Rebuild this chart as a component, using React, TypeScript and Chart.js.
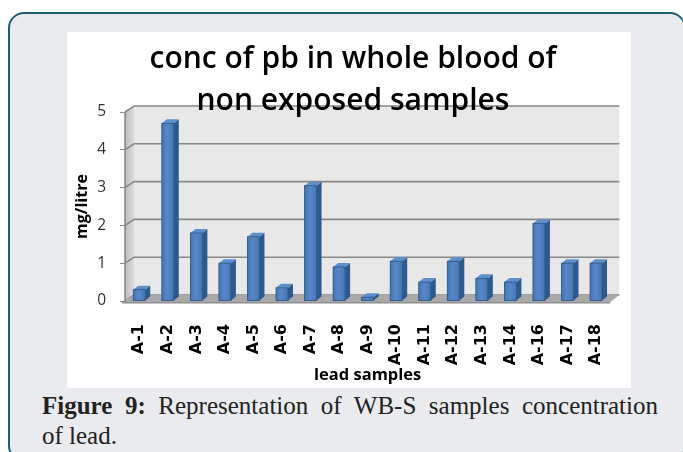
import { useEffect, useRef } from "react";
import { Chart, registerables } from "chart.js";

Chart.register(...registerables);

const categories = ["A-1", "A-2", "A-3", "A-4", "A-5", "A-6", "A-7", "A-8", "A-9", "A-10", "A-11", "A-12", "A-13", "A-14", "A-16", "A-17", "A-18"];
const leadValues = [0.3, 4.7, 1.8, 1.0, 1.7, 0.35, 3.05, 0.9, 0.1, 1.05, 0.5, 1.05, 0.6, 0.5, 2.05, 1.0, 1.0];
const yTicks = [0, 1, 2, 3, 4, 5];
const titleLines = ["conc of pb in whole blood of", "non exposed samples"];
const xAxisTitle = "lead samples";
const yAxisTitle = "mg/litre";

const WALL_DX = 9;
const WALL_DY = -6;
const BAR_DX = 5;
const BAR_DY = -4;

const threeD = {
  id: "threeD",
  beforeDraw(chart: any) {
    const { ctx, chartArea } = chart;
    const { left: L, right: R, top: T, bottom: B } = chartArea;
    const y = chart.scales.y;
    ctx.save();
    // side wall
    ctx.beginPath();
    ctx.moveTo(L, T);
    ctx.lineTo(L + WALL_DX, T + WALL_DY);
    ctx.lineTo(L + WALL_DX, B + WALL_DY);
    ctx.lineTo(L, B);
    ctx.closePath();
    const sg = ctx.createLinearGradient(L, 0, L + WALL_DX, 0);
    sg.addColorStop(0, "#bdbdbd");
    sg.addColorStop(1, "#dcdcdc");
    ctx.fillStyle = sg;
    ctx.fill();
    // back wall
    ctx.fillStyle = "#e8e8e8";
    ctx.fillRect(L + WALL_DX, T + WALL_DY, R - L, B - T);
    // gridlines
    for (const v of yTicks) {
      const py = y.getPixelForValue(v);
      ctx.beginPath();
      ctx.moveTo(L, py);
      ctx.lineTo(L + WALL_DX, py + WALL_DY);
      ctx.lineTo(R + WALL_DX, py + WALL_DY);
      ctx.strokeStyle = "#878787";
      ctx.lineWidth = 1.6;
      ctx.stroke();
    }
    // floor
    ctx.beginPath();
    ctx.moveTo(L - 3, B + 1);
    ctx.lineTo(L + WALL_DX, B + WALL_DY);
    ctx.lineTo(R + WALL_DX, B + WALL_DY);
    ctx.lineTo(R, B + 1);
    ctx.closePath();
    ctx.fillStyle = "#a9a9a9";
    ctx.fill();
    ctx.fillStyle = "#8e8e8e";
    ctx.fillRect(L - 3, B + 1, R - L + 3, 1.5);
    // side wall edge
    ctx.beginPath();
    ctx.moveTo(L, T);
    ctx.lineTo(L, B + 1);
    ctx.strokeStyle = "#8a8a8a";
    ctx.lineWidth = 1.5;
    ctx.stroke();
    ctx.restore();
  },
  afterDatasetsDraw(chart: any) {
    const { ctx } = chart;
    const meta = chart.getDatasetMeta(0);
    ctx.save();
    for (const el of meta.data) {
      const { x, y, base, width } = el.getProps(["x", "y", "base", "width"], true);
      const l = x - width / 2;
      const r = x + width / 2;
      // front face shading
      const fg = ctx.createLinearGradient(l, 0, r, 0);
      fg.addColorStop(0, "#4576b4");
      fg.addColorStop(0.45, "#5787c6");
      fg.addColorStop(1, "#4476b5");
      ctx.fillStyle = fg;
      ctx.fillRect(l, y, width, base - y);
      // side face
      ctx.beginPath();
      ctx.moveTo(r, y);
      ctx.lineTo(r + BAR_DX, y + BAR_DY);
      ctx.lineTo(r + BAR_DX, base + BAR_DY);
      ctx.lineTo(r, base);
      ctx.closePath();
      ctx.fillStyle = "#2c5a8f";
      ctx.fill();
      // top face
      ctx.beginPath();
      ctx.moveTo(l, y);
      ctx.lineTo(l + BAR_DX, y + BAR_DY);
      ctx.lineTo(r + BAR_DX, y + BAR_DY);
      ctx.lineTo(r, y);
      ctx.closePath();
      ctx.fillStyle = "#5d8fcc";
      ctx.fill();
      // outline
      ctx.strokeStyle = "#2f5480";
      ctx.lineWidth = 0.8;
      ctx.strokeRect(l, y, width, base - y);
    }
    ctx.restore();
  },
};

export default function App() {
  const ref = useRef<HTMLCanvasElement>(null);

  useEffect(() => {
    const canvas = ref.current;
    if (!canvas) return;
    const chart = new Chart(canvas, {
      type: "bar",
      data: {
        labels: categories,
        datasets: [
          {
            data: leadValues,
            backgroundColor: "#4a7ebb",
            borderWidth: 0,
            barPercentage: 0.42,
            categoryPercentage: 1.0,
          },
        ],
      },
      options: {
        responsive: false,
        animation: false,
        layout: { padding: { left: 26, right: 26, top: 0, bottom: 0 } },
        plugins: {
          legend: { display: false },
          tooltip: { enabled: false },
          title: {
            display: true,
            text: titleLines,
            color: "#000",
            font: { family: "Open Sans", size: 30, weight: 600, lineHeight: 42 / 30 },
            padding: { top: 6.5, bottom: -10.5 },
          },
        },
        scales: {
          x: {
            grid: { display: false, drawTicks: false },
            border: { display: false },
            ticks: {
              autoSkip: false,
              maxRotation: 90,
              minRotation: 90,
              padding: 23,
              color: "#000",
              font: { family: "DejaVu Sans", size: 16, weight: "bold" },
            },
            title: {
              display: true,
              text: xAxisTitle,
              color: "#000",
              font: { family: "Open Sans", size: 16.5, weight: "bold", lineHeight: 1.2 },
              padding: { top: 0, bottom: 3 },
            },
            afterFit(scale: any) {
              scale.height = 87;
            },
          },
          y: {
            min: 0,
            max: 5,
            ticks: {
              stepSize: 1,
              padding: 14,
              color: "#333",
              font: { family: "Open Sans", size: 15.5 },
            },
            grid: { drawOnChartArea: false, tickLength: 5, color: "#8a8a8a" },
            border: { display: true, color: "#8a8a8a" },
            title: {
              display: true,
              text: yAxisTitle,
              color: "#000",
              font: { family: "Open Sans", size: 16, weight: "bold", lineHeight: 1.2 },
              padding: { top: -20, bottom: 0 },
            },
            afterFit(scale: any) {
              scale.width = 32;
            },
          },
        },
      },
      plugins: [threeD],
    } as any);
    return () => chart.destroy();
  }, []);

  return (
    <div style={{ position: "fixed", left: 0, top: 0, width: 683, height: 452, background: "#fff", overflow: "hidden" }}>
      <div
        style={{
          position: "absolute",
          left: 8,
          top: 12,
          width: 674,
          height: 446,
          border: "2px solid #1f5d72",
          borderRadius: 16,
          background: "#e9ebee",
        }}
      />
      <div style={{ position: "absolute", left: 67, top: 32, width: 564, height: 356, background: "#fff" }} />
      <canvas
        ref={ref}
        width={572}
        height={356}
        style={{ position: "absolute", left: 67, top: 32, width: 572, height: 356, display: "block" }}
      />
      <div
        style={{
          position: "absolute",
          left: 42,
          top: 391,
          width: 616,
          fontFamily: "'Liberation Serif', serif",
          fontSize: 25,
          lineHeight: "30px",
          color: "#222",
        }}
      >
        <div style={{ textAlign: "justify", textAlignLast: "justify", whiteSpace: "nowrap" as any }}>
          <b>Figure 9:</b> Representation of WB-S samples concentration
        </div>
        <div>of lead.</div>
      </div>
    </div>
  );
}
